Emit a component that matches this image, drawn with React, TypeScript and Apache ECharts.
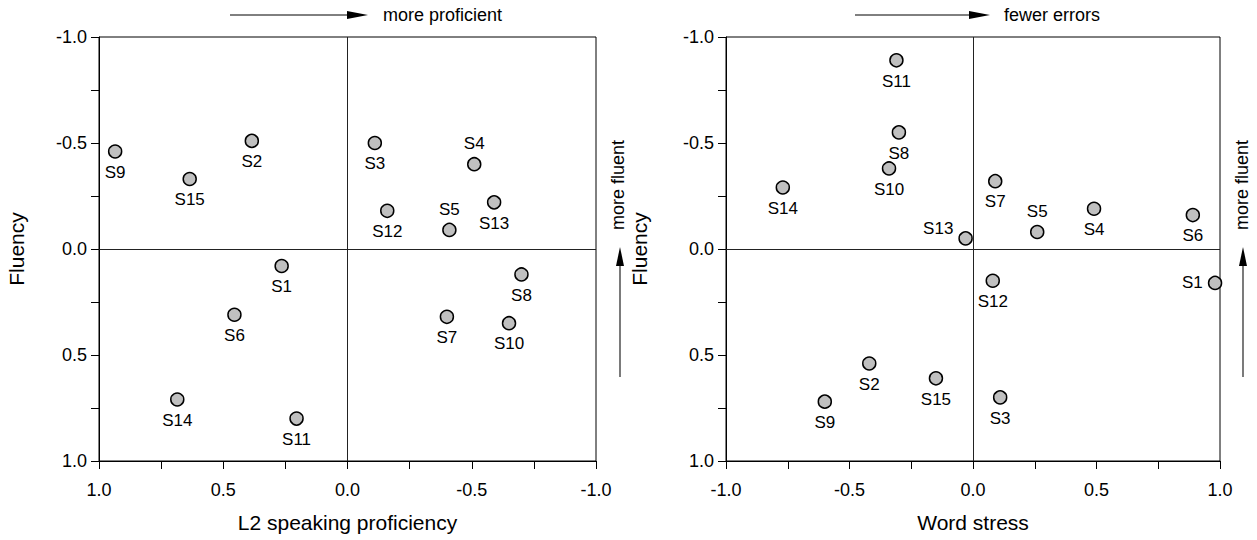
import React, { useEffect, useRef } from "react";
import * as echarts from "echarts";

const names = ["S1","S2","S3","S4","S5","S6","S7","S8","S9","S10","S11","S12","S13","S14","S15"];
// Left panel: L2 speaking proficiency vs Fluency
const profX = [0.265, 0.385, -0.11, -0.51, -0.41, 0.455, -0.40, -0.70, 0.935, -0.65, 0.205, -0.16, -0.59, 0.685, 0.635];
const profFluency = [0.08, -0.51, -0.50, -0.40, -0.09, 0.31, 0.32, 0.12, -0.46, 0.35, 0.80, -0.18, -0.22, 0.71, -0.33];
// Right panel: Word stress vs Fluency
const stressX = [0.98, -0.42, 0.11, 0.49, 0.26, 0.89, 0.09, -0.30, -0.60, -0.34, -0.31, 0.08, -0.03, -0.77, -0.15];
const stressFluency = [0.16, 0.54, 0.70, -0.19, -0.08, -0.16, -0.32, -0.55, 0.72, -0.38, -0.89, 0.15, -0.05, -0.29, 0.61];

const axisTitles = { left: "L2 speaking proficiency", right: "Word stress", y: "Fluency" };
const annotations = { left: "more proficient", right: "fewer errors", vertical: "more fluent" };

// label placement (style only)
const leftLabelPos: Record<string, string> = { S4: "top", S5: "top" };
const rightLabelPos: Record<string, string> = { S5: "top", S13: "left", S1: "left" };

const FONT = "'Liberation Sans', Arial, sans-serif";

function fmt(v: number) {
  const d = v * 2;
  if (Math.abs(d - Math.round(d)) < 1e-9) return v.toFixed(1);
  return "";
}

function buildData(xs: number[], ys: number[], pos: Record<string, string>) {
  return names.map((n, i) => {
    const p = pos[n] || "bottom";
    const label: any = { position: p };
    if (n === "S13" && p === "left") label.offset = [0, -10];
    return { name: n, value: [xs[i], ys[i]], label };
  });
}

export default function App() {
  const ref = useRef<HTMLDivElement>(null);
  useEffect(() => {
    if (!ref.current) return;
    const chart = echarts.init(ref.current, null, { renderer: "svg" });
    const xAxisBase = (inverse: boolean, name: string, gridIndex: number) => ({
      type: "value",
      gridIndex,
      min: -1,
      max: 1,
      interval: 0.25,
      inverse,
      name,
      nameLocation: "middle",
      nameGap: 51,
      nameTextStyle: { fontSize: 21, color: "#000", fontFamily: FONT },
      axisLine: { onZero: false, lineStyle: { color: "#000", width: 1 } },
      axisTick: { show: true, length: 8, lineStyle: { color: "#000" } },
      axisLabel: { formatter: fmt, fontSize: 18, color: "#000", fontFamily: FONT, margin: 20 },
      splitLine: { show: false },
    });
    const yAxisBase = (gridIndex: number, nameGap: number) => ({
      type: "value",
      gridIndex,
      min: -1,
      max: 1,
      interval: 0.25,
      inverse: true,
      name: axisTitles.y,
      nameLocation: "middle",
      nameGap,
      nameTextStyle: { fontSize: 21, color: "#000", fontFamily: FONT },
      axisLine: { onZero: false, lineStyle: { color: "#000", width: 1 } },
      axisTick: { show: true, length: 8, lineStyle: { color: "#000" } },
      axisLabel: { formatter: fmt, fontSize: 18, color: "#000", fontFamily: FONT, margin: 12 },
      splitLine: { show: false },
    });
    const seriesBase = (idx: number, data: any[]) => ({
      type: "scatter",
      xAxisIndex: idx,
      yAxisIndex: idx,
      data,
      symbol: "circle",
      symbolSize: 13,
      itemStyle: { color: "#c0c0c0", borderColor: "#000", borderWidth: 1.5, opacity: 1 },
      label: {
        show: true,
        formatter: "{b}",
        fontSize: 17,
        color: "#000",
        fontFamily: FONT,
        distance: 5,
      },
      markLine: {
        silent: true,
        symbol: "none",
        label: { show: false },
        lineStyle: { color: "#222", width: 1, type: "solid" },
        data: [{ xAxis: 0 }, { yAxis: 0 }],
      },
      emphasis: { disabled: true },
    });
    const arrowColor = "#222";
    const graphic: any[] = [
      { type: "line", shape: { x1: 230, y1: 15, x2: 350, y2: 15 }, style: { stroke: "#000", lineWidth: 1 } },
      { type: "polygon", shape: { points: [[347, 11], [368, 15], [347, 19]] }, style: { fill: "#000" } },
      { type: "text", x: 383, y: 15, style: { text: annotations.left, fontSize: 18, fontFamily: FONT, fill: "#000", verticalAlign: "middle", align: "left" } },
      { type: "line", shape: { x1: 855, y1: 15, x2: 975, y2: 15 }, style: { stroke: "#000", lineWidth: 1 } },
      { type: "polygon", shape: { points: [[969, 11], [990, 15], [969, 19]] }, style: { fill: "#000" } },
      { type: "text", x: 1004, y: 15, style: { text: annotations.right, fontSize: 18, fontFamily: FONT, fill: "#000", verticalAlign: "middle", align: "left" } },
      { type: "line", shape: { x1: 620, y1: 377, x2: 620, y2: 262 }, style: { stroke: arrowColor, lineWidth: 1.2 } },
      { type: "polygon", shape: { points: [[616, 266], [620, 247], [624, 266]] }, style: { fill: "#000" } },
      { type: "text", x: 618, y: 185, rotation: Math.PI / 2, style: { text: annotations.vertical, fontSize: 18, fontFamily: FONT, fill: "#000", verticalAlign: "middle", align: "center" } },
      { type: "line", shape: { x1: 1243, y1: 377, x2: 1243, y2: 262 }, style: { stroke: arrowColor, lineWidth: 1.2 } },
      { type: "polygon", shape: { points: [[1239, 266], [1243, 247], [1247, 266]] }, style: { fill: "#000" } },
      { type: "text", x: 1242, y: 185, rotation: Math.PI / 2, style: { text: annotations.vertical, fontSize: 18, fontFamily: FONT, fill: "#000", verticalAlign: "middle", align: "center" } },
    ];
    chart.setOption({
      animation: false,
      backgroundColor: "#fff",
      textStyle: { fontFamily: FONT },
      grid: [
        { left: 99, top: 37, width: 497, height: 424, show: true, borderColor: "#000", borderWidth: 1, backgroundColor: "transparent" },
        { left: 726, top: 37, width: 494, height: 424, show: true, borderColor: "#000", borderWidth: 1, backgroundColor: "transparent" },
      ],
      xAxis: [xAxisBase(true, axisTitles.left, 0), xAxisBase(false, axisTitles.right, 1)],
      yAxis: [yAxisBase(0, 72), yAxisBase(1, 76)],
      series: [
        seriesBase(0, buildData(profX, profFluency, leftLabelPos)),
        seriesBase(1, buildData(stressX, stressFluency, rightLabelPos)),
      ],
      graphic,
    });
    return () => chart.dispose();
  }, []);
  return <div ref={ref} style={{ position: "fixed", left: 0, top: 0, width: 1257, height: 540, background: "#fff" }} />;
}
